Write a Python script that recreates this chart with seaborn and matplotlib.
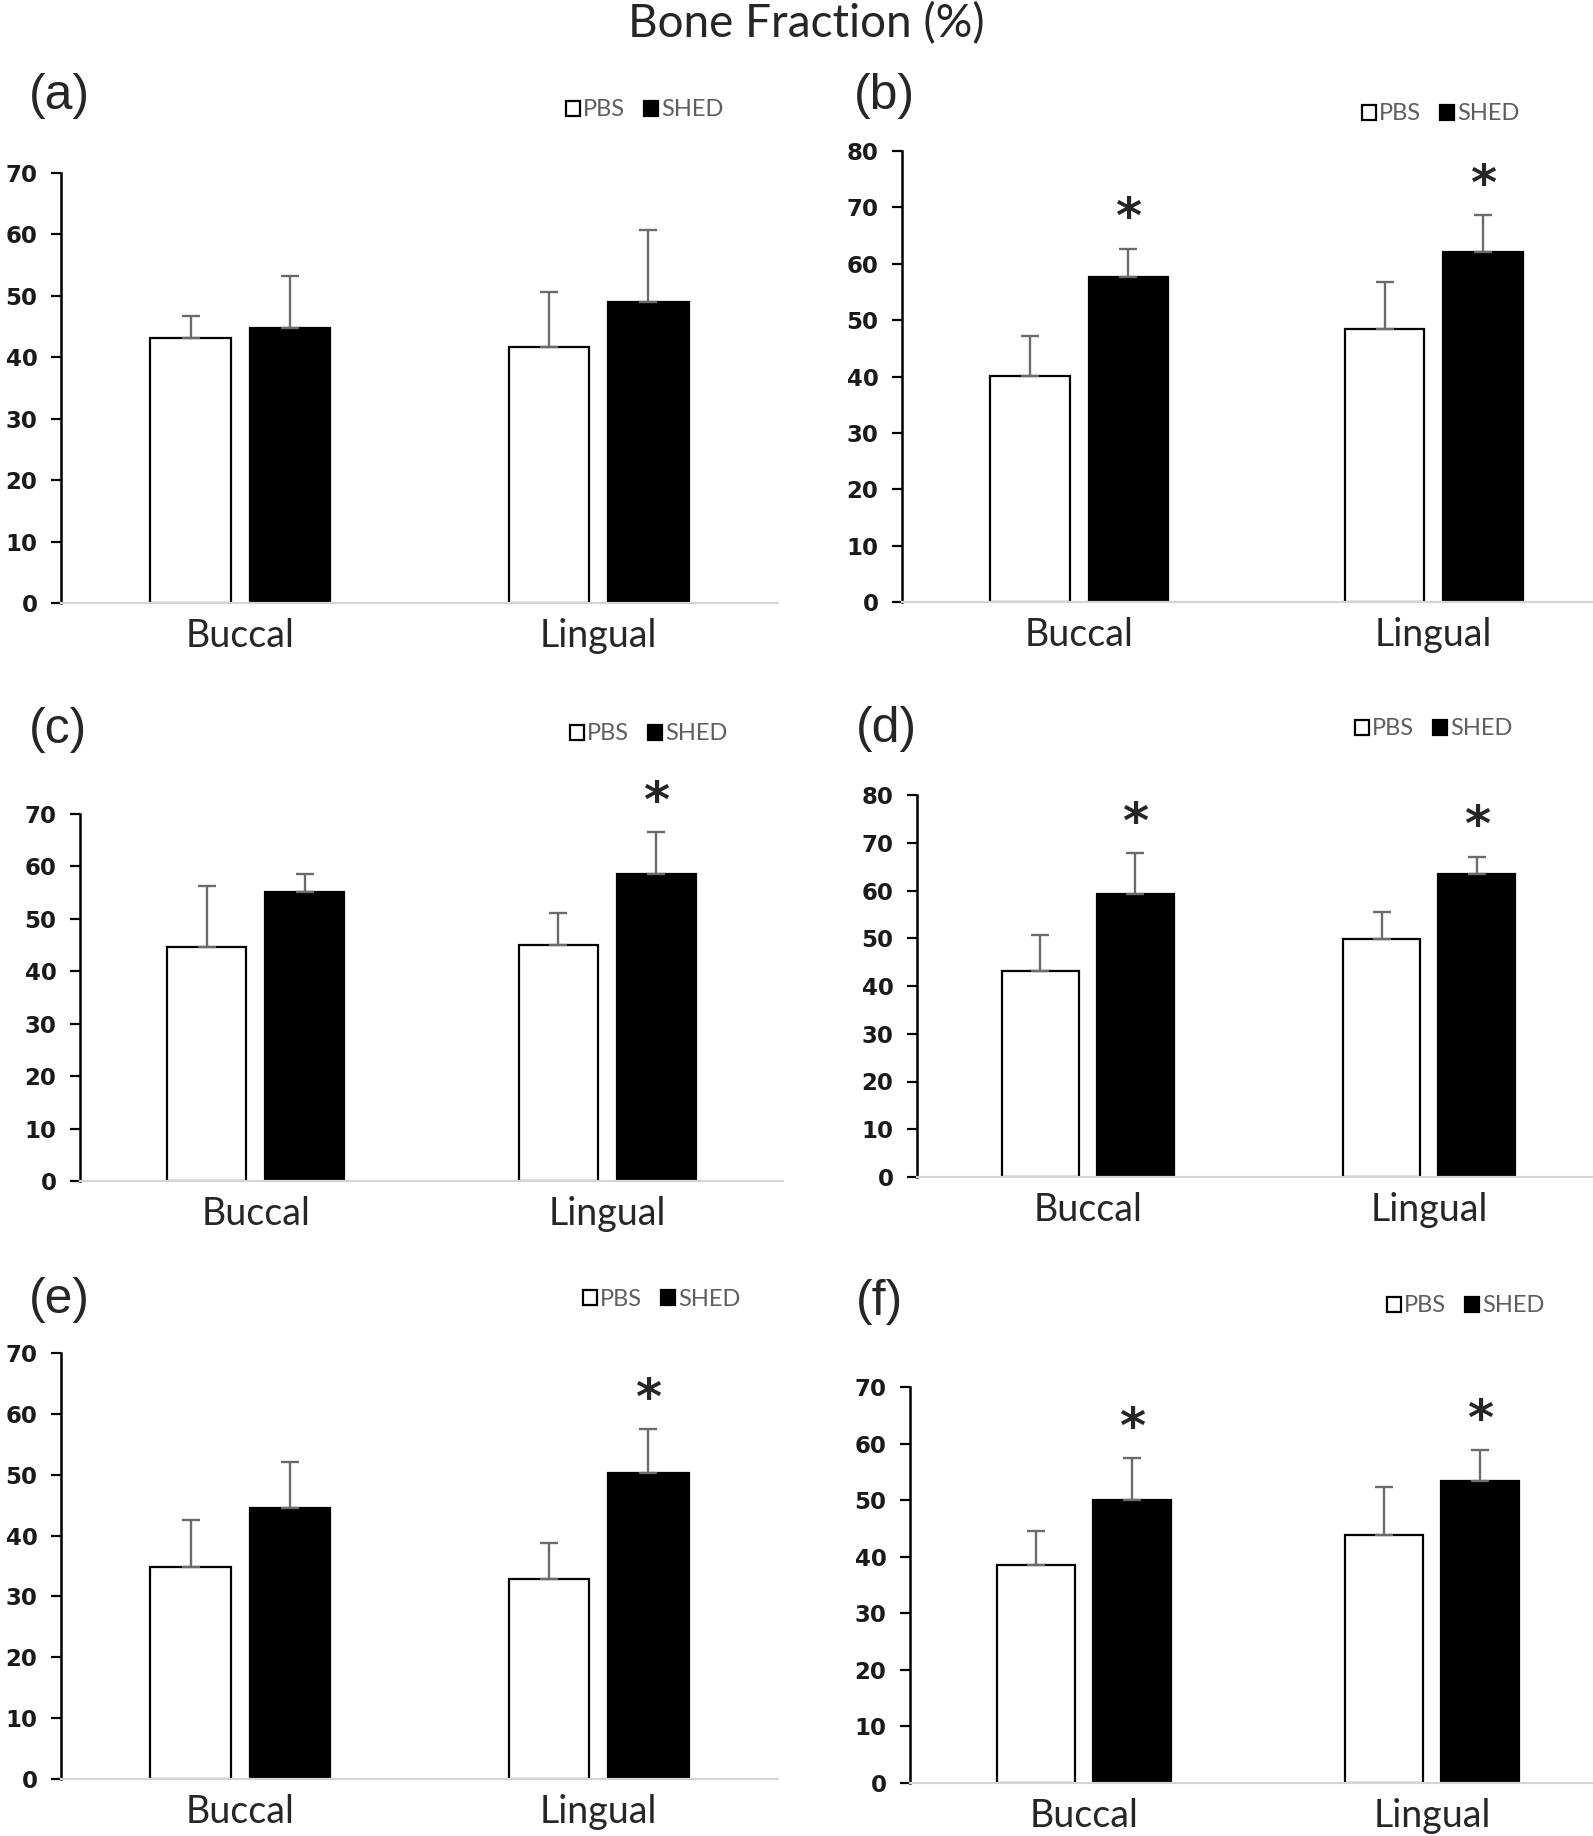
import numpy as np
import pandas as pd
import seaborn as sns
import matplotlib.pyplot as plt

# ---- data ----
sites = ['Buccal', 'Lingual']
groups = ['PBS', 'SHED']
panel_names = ['(a)', '(b)', '(c)', '(d)', '(e)', '(f)']
ymax = [70, 80, 70, 80, 70, 70]

pbs_mean = [[43.2, 41.7], [40.1, 48.5], [44.6, 45.1], [43.2, 49.8], [34.9, 32.9], [38.6, 43.8]]
pbs_err = [[3.6, 9.0], [7.0, 8.3], [11.6, 6.1], [7.4, 5.8], [7.7, 5.9], [5.9, 8.5]]
shed_mean = [[44.8, 49.0], [57.6, 62.1], [55.2, 58.6], [59.2, 63.5], [44.5, 50.2], [50.1, 53.4]]
shed_err = [[8.5, 11.8], [5.1, 6.6], [3.3, 7.9], [8.7, 3.6], [7.6, 7.3], [7.4, 5.5]]
# significance marks above SHED bars
shed_star = [[False, False], [True, True], [False, True], [True, True], [False, True], [True, True]]

# ---- layout in pixels of the 1593x1836 image ----
W, H = 1593, 1836
# left, zero-line y, width, top-tick y
axes_px = [(61, 603, 717, 173), (902, 602, 709, 151),
           (80, 1181, 703, 814), (917, 1177, 683, 795),
           (61, 1779, 717, 1353), (910, 1783, 696, 1387)]
legend_px = [(566, 110), (1362, 114), (570, 734), (1355, 729), (583, 1299), (1387, 1306)]
label_px = [(29, 96), (854, 96), (29, 730), (856, 729), (29, 1300), (856, 1302)]

sns.set_style('white')
plt.rcParams['font.family'] = ['Lato', 'DejaVu Sans']

fig = plt.figure(figsize=(W / 100, H / 100), dpi=100)

for i in range(6):
    left, y0, width, ytop = axes_px[i]
    ax = fig.add_axes([left / W, 1 - y0 / H, width / W, (y0 - ytop) / H])

    df = pd.DataFrame({
        'site': sites * 2,
        'group': ['PBS'] * 2 + ['SHED'] * 2,
        'value': pbs_mean[i] + shed_mean[i],
    })
    sns.barplot(data=df, x='site', y='value', hue='group', hue_order=groups,
                palette={'PBS': 'white', 'SHED': 'black'}, edgecolor='black',
                linewidth=1.6, width=0.555, gap=0.19, errorbar=None,
                legend=False, ax=ax)
    bar_containers = list(ax.containers)

    errs = [pbs_err[i], shed_err[i]]
    for g, cont in enumerate(bar_containers):
        for j, bar in enumerate(cont.patches):
            x = bar.get_x() + bar.get_width() / 2
            top = bar.get_height()
            ax.errorbar(x, top, yerr=[[0], [errs[g][j]]], fmt='none',
                        ecolor='#6b6b6b', elinewidth=1.7, capsize=6.8,
                        capthick=1.7, zorder=3, clip_on=False)
            if g == 1 and shed_star[i][j]:
                ax.annotate('*', xy=(x, top + errs[g][j]), xytext=(0, 21),
                            textcoords='offset points', ha='center', va='center',
                            fontsize=36, family='DejaVu Sans', fontweight='bold',
                            annotation_clip=False)

    ax.set_xlim(-0.5, 1.5)
    ax.set_ylim(0, ymax[i])
    ax.set_yticks(np.arange(0, ymax[i] + 1, 10))
    ax.set_xlabel('')
    ax.set_ylabel('')
    for s in ['top', 'right']:
        ax.spines[s].set_visible(False)
    ax.spines['left'].set_color('black')
    ax.spines['left'].set_linewidth(1.8)
    ax.spines['bottom'].set_color('#d4d4d4')
    ax.spines['bottom'].set_linewidth(1.6)
    ax.tick_params(axis='y', direction='out', length=7, width=1.6, pad=10,
                   left=True, colors='black')
    ax.tick_params(axis='x', length=0, pad=11, labelsize=27)
    for lab in ax.get_yticklabels():
        lab.set_fontfamily('DejaVu Sans')
        lab.set_fontweight('bold')
        lab.set_fontsize(16.5)
        lab.set_color('#1a1a1a')

    lx, ly = legend_px[i]
    handles = [c.patches[0] for c in bar_containers]
    ax.legend(handles, groups, loc='center left', bbox_to_anchor=(lx / W, 1 - ly / H),
              bbox_transform=fig.transFigure, ncol=2, frameon=False, fontsize=17,
              handlelength=0.6, handleheight=0.6, handletextpad=0.12,
              columnspacing=0.8, borderpad=0, borderaxespad=0, labelcolor='#5e5e5e')

    px, py = label_px[i]
    fig.text(px / W, 1 - py / H, panel_names[i], ha='left', va='center',
             fontsize=36, family='Liberation Sans')

fig.text(806 / W, 1 - 24 / H, 'Bone Fraction (%)', ha='center', va='center', fontsize=33)

fig.savefig('out.png', dpi=100, facecolor='white')
